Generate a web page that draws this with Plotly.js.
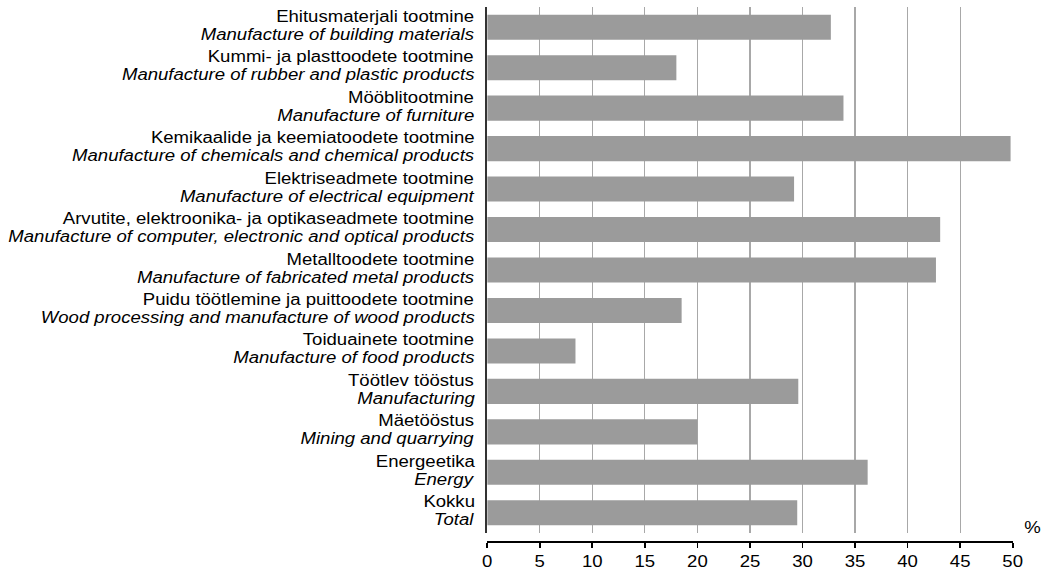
<!DOCTYPE html>
<html>
<head>
<meta charset="utf-8">
<script src="https://cdn.plot.ly/plotly-3.0.1.min.js"></script>
<style>
html,body{margin:0;padding:0;background:#fff;overflow:hidden;}
#wrap{width:1051px;height:572px;overflow:hidden;}
#chart{width:906px;height:572px;transform:scaleX(1.16);transform-origin:0 0;}
</style>
</head>
<body>
<div id="wrap"><div id="chart"></div></div>
<script>
// Categories listed bottom to top
const labelsEt = ["Kokku", "Energeetika", "Mäetööstus", "Töötlev tööstus", "Toiduainete tootmine",
  "Puidu töötlemine ja puittoodete tootmine", "Metalltoodete tootmine",
  "Arvutite, elektroonika- ja optikaseadmete tootmine", "Elektriseadmete tootmine",
  "Kemikaalide ja keemiatoodete tootmine", "Mööblitootmine", "Kummi- ja plasttoodete tootmine",
  "Ehitusmaterjali tootmine"];
const labelsEn = ["Total", "Energy", "Mining and quarrying", "Manufacturing", "Manufacture of food products",
  "Wood processing and manufacture of wood products", "Manufacture of fabricated metal products",
  "Manufacture of computer, electronic and optical products", "Manufacture of electrical equipment",
  "Manufacture of chemicals and chemical products", "Manufacture of furniture",
  "Manufacture of rubber and plastic products", "Manufacture of building materials"];
const values = [29.5, 36.2, 20.0, 29.6, 8.4, 18.5, 42.7, 43.1, 29.2, 49.8, 33.9, 18.0, 32.7];
const xTicks = [0, 5, 10, 15, 20, 25, 30, 35, 40, 45, 50];
const unitLabel = "%";

const idx = labelsEt.map((_, i) => i);
const font = "Liberation Sans, Arial, sans-serif";

const labelAnn = [];
idx.forEach(i => {
  labelAnn.push({text: labelsEt[i], xref: "paper", yref: "y", x: 0, y: i,
    xanchor: "right", yanchor: "middle", xshift: -9.5, yshift: 11, showarrow: false,
    font: {family: font, size: 16, color: "#000"}});
  labelAnn.push({text: "<i>" + labelsEn[i] + "</i>", xref: "paper", yref: "y", x: 0, y: i,
    xanchor: "right", yanchor: "middle", xshift: -9.5, yshift: -7, showarrow: false,
    font: {family: font, size: 16, color: "#000"}});
});

Plotly.newPlot("chart", [{
  type: "bar",
  orientation: "h",
  x: values,
  y: idx,
  marker: {color: "#9b9b9b", line: {width: 0}},
  hoverinfo: "none"
}], {
  width: 906, height: 572,
  margin: {l: 420, r: 33, t: 7, b: 30},
  paper_bgcolor: "#fff", plot_bgcolor: "#fff",
  bargap: 0.38,
  showlegend: false,
  font: {family: font, size: 16, color: "#000"},
  xaxis: {
    range: [0, 50],
    tickvals: xTicks,
    ticktext: xTicks.map(String),
    showgrid: true, gridcolor: "#a8a8a8", gridwidth: 1,
    zeroline: false,
    showline: true, linecolor: "#000", linewidth: 2,
    ticks: "outside", ticklen: 5, tickwidth: 1.5, tickcolor: "#000",
    anchor: "free", position: 0,
    tickfont: {family: font, size: 16, color: "#000"}
  },
  yaxis: {
    domain: [9/535, 1],
    range: [-0.5, 12.5],
    tickvals: idx,
    showticklabels: false,
    showgrid: false, zeroline: false,
    showline: true, linecolor: "#333", linewidth: 1.5,
    ticks: ""
  },
  annotations: labelAnn.concat([{
    text: unitLabel, xref: "paper", yref: "paper",
    x: 1.038, y: 0.028, xanchor: "center", yanchor: "middle",
    showarrow: false, font: {family: font, size: 16, color: "#000"}
  }])
}, {staticPlot: true});
</script>
</body>
</html>
